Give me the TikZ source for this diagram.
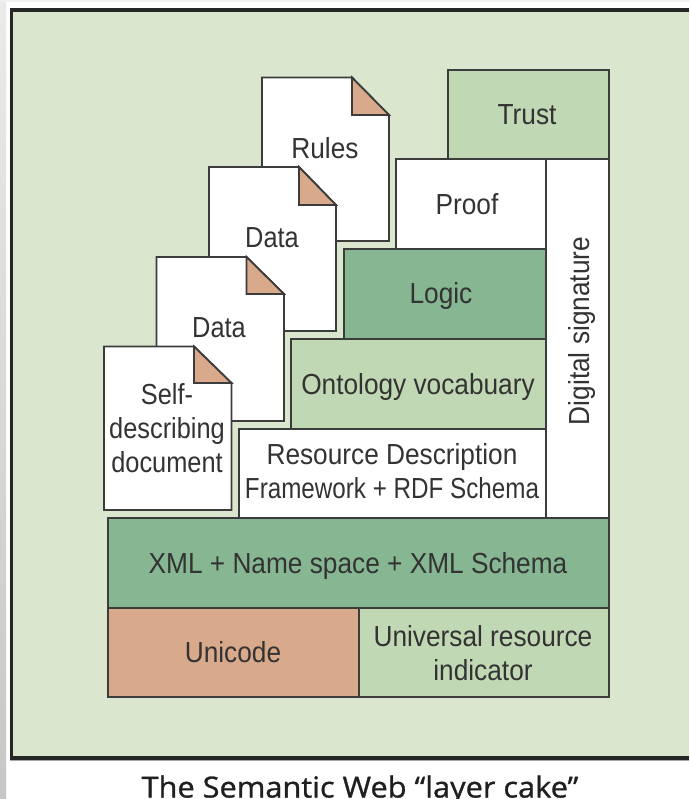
\documentclass[tikz,border=0pt]{standalone}
\usepackage{fontspec}
\setmainfont[FakeStretch=0.905]{Liberation Sans}
\newfontfamily\tightfont[FakeStretch=0.835]{Liberation Sans}
\newfontfamily\midfont[FakeStretch=0.875]{Liberation Sans}
\newfontfamily\capfont[FakeStretch=1.06,FakeBold=1.0]{Open Sans}
\definecolor{panel}{HTML}{DBE6CF}
\definecolor{lightgreen}{HTML}{C1D8B5}
\definecolor{midgreen}{HTML}{86B692}
\definecolor{salmon}{HTML}{D8A98A}
\definecolor{edge}{HTML}{3C3C3C}
\definecolor{ink}{HTML}{333333}
\tikzset{
  x=1pt,y=-1pt,
  cake/.style={draw=edge,line width=1.8pt,anchor=north west,inner sep=0pt,outer sep=0pt},
  label/.style={text=ink,align=center,inner sep=0pt,anchor=base,font=\fontsize{29}{34}\selectfont},
  blocktext/.style={text=ink,align=center,inner sep=0pt,anchor=center,font=\fontsize{29}{34}\selectfont},
  sheet/.style={draw=edge,line width=1.8pt,fill=white,line join=miter},
  foldcorner/.style={draw=edge,line width=1.8pt,fill=salmon,line join=miter},
}
\newcommand{\docsheet}[6]{%
  \path[sheet] (#1,#2) -- (#5,#2) -- (#3,#6) -- (#3,#4) -- (#1,#4) -- cycle;
  \path[foldcorner] (#5,#2) -- (#3,#6) -- (#5,#6) -- cycle;
}
\begin{document}
\begin{tikzpicture}
\useasboundingbox (0,0) rectangle (689,799);
\fill[white] (0,0) rectangle (689,799);
\shade[top color=black!8,bottom color=black!22] (0,0) rectangle (6,799);
\fill[black!6] (0,0) rectangle (689,2);
\fill[panel,draw=none] (11,9.5) rectangle (689,758);
\draw[black!35,line width=1pt] (9.5,760) -- (689,760);
\draw[black!85,line width=3.4pt,line join=miter] (689,10) -- (11.5,10) -- (11.5,758) -- (689,758);

\docsheet{262}{77.5}{389}{241}{352}{115}
\node[label] (rules) at (325,158.7) {Rules};
\docsheet{209}{167}{336}{331}{299}{205}
\node[label] (datatwo) at (272,247.5) {\midfont Data};
\docsheet{156.5}{257}{284}{421}{246.5}{294}
\node[label] (dataone) at (219,337) {\midfont Data};
\docsheet{104}{346.5}{231.5}{510}{194}{383}
\node[blocktext] (selfdoc) at (167,428) {\midfont Self-\\\midfont describing\\\midfont document};

\node[cake,fill=lightgreen,minimum width=161pt,minimum height=89pt] (trust) at (448,70) {};
\node[label] (trustlabel) at (527,124.5) {Trust};
\node[cake,fill=white,minimum width=150pt,minimum height=90pt] (proof) at (396,159) {};
\node[label] (prooflabel) at (467,214.7) {Proof};
\node[cake,fill=midgreen,minimum width=202pt,minimum height=90pt] (logic) at (344,249) {};
\node[label] (logiclabel) at (441,303.5) {Logic};
\node[cake,fill=lightgreen,minimum width=255pt,minimum height=90pt] (onto) at (291,339) {};
\node[label] (ontolabel) at (418,394) {Ontology vocabuary};
\node[cake,fill=white,minimum width=307pt,minimum height=89pt] (rdf) at (239,429) {};
\node[label] (rdfone) at (392,464) {Resource Description};
\node[label] (rdftwo) at (392,498) {\tightfont Framework + RDF Schema};
\node[cake,fill=white,minimum width=63pt,minimum height=359pt] (sigbox) at (546,159) {};
\node[label,rotate=90] (siglabel) at (589,331) {Digital signature};
\node[cake,fill=midgreen,minimum width=501pt,minimum height=90pt] (xml) at (108,518) {};
\node[label] (xmllabel) at (358,573) {XML + Name space + XML Schema};
\node[cake,fill=salmon,minimum width=251pt,minimum height=89pt] (unicode) at (108,608) {};
\node[label] (unicodelabel) at (233,662) {Unicode};
\node[cake,fill=lightgreen,minimum width=250pt,minimum height=89pt] (uri) at (359,608) {};
\node[blocktext] (urilabel) at (483,653) {Universal resource\\indicator};

\node[anchor=base,inner sep=0pt,text=black!88] (caption) at (360,797.5) {\capfont\fontsize{29}{33}\selectfont The Semantic Web “layer cake”};
\end{tikzpicture}
\end{document}
